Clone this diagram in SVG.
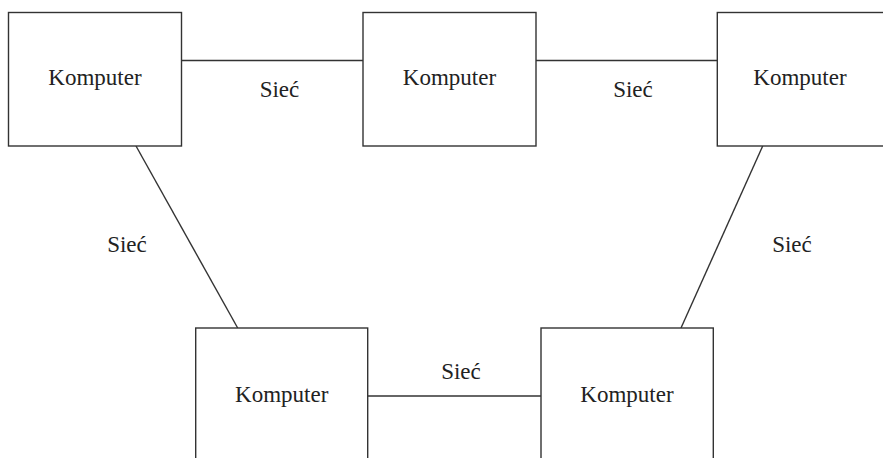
<svg xmlns="http://www.w3.org/2000/svg" width="883" height="458" viewBox="0 0 883 458">
  <style>
    .box { fill: #ffffff; stroke: #333333; stroke-width: 1.4; }
    .link { stroke: #333333; stroke-width: 1.4; fill: none; }
    .lbl { font-family: "Liberation Serif", "Times New Roman", serif; font-size: 23px; fill: #222222; text-anchor: middle; }
  </style>
  <rect width="883" height="458" fill="#ffffff"/>

  <!-- network links -->
  <g id="connectors">
    <line class="link" x1="182" y1="60.5" x2="363" y2="60.5"/>
    <line class="link" x1="536" y1="60.5" x2="717" y2="60.5"/>
    <line class="link" x1="136" y1="146" x2="237.7" y2="328"/>
    <line class="link" x1="762.7" y1="146" x2="681" y2="328"/>
    <line class="link" x1="368" y1="396" x2="541" y2="396"/>
    <text class="lbl" x="279.5" y="96.5">Sieć</text>
    <text class="lbl" x="633" y="96.5">Sieć</text>
    <text class="lbl" x="127" y="251.5">Sieć</text>
    <text class="lbl" x="792" y="251.5">Sieć</text>
    <text class="lbl" x="461" y="379">Sieć</text>
  </g>

  <g id="komputer-1">
    <rect class="box" x="8.5" y="12.5" width="173" height="133.5"/>
    <text class="lbl" x="95" y="85">Komputer</text>
  </g>
  <g id="komputer-2">
    <rect class="box" x="363" y="12.5" width="173" height="133.5"/>
    <text class="lbl" x="449.5" y="85">Komputer</text>
  </g>
  <g id="komputer-3">
    <rect class="box" x="717.3" y="12.5" width="173" height="133.5"/>
    <text class="lbl" x="800" y="85">Komputer</text>
  </g>
  <g id="komputer-4">
    <rect class="box" x="195.7" y="328" width="172" height="140"/>
    <text class="lbl" x="281.7" y="401.7">Komputer</text>
  </g>
  <g id="komputer-5">
    <rect class="box" x="541" y="328" width="172.3" height="140"/>
    <text class="lbl" x="627" y="401.7">Komputer</text>
  </g>
</svg>
